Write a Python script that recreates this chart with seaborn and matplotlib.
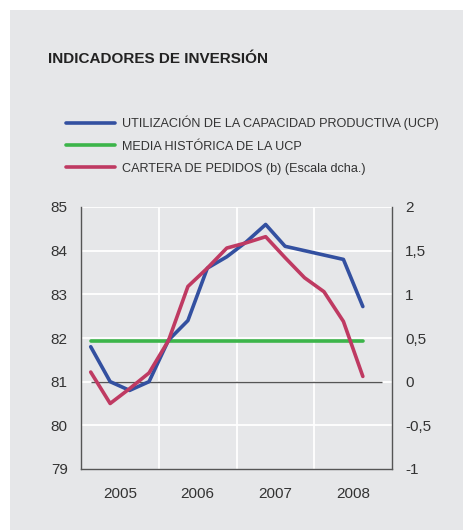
import numpy as np
import pandas as pd
import matplotlib
matplotlib.use("Agg")
import matplotlib.pyplot as plt
import seaborn as sns
from matplotlib.patches import Rectangle
from matplotlib.ticker import FuncFormatter

# quarterly data, Q1 2005 - Q3 2008
quarters = ["2005-Q1", "2005-Q2", "2005-Q3", "2005-Q4",
            "2006-Q1", "2006-Q2", "2006-Q3", "2006-Q4",
            "2007-Q1", "2007-Q2", "2007-Q3", "2007-Q4",
            "2008-Q1", "2008-Q2", "2008-Q3"]
ucp = [81.8, 81.0, 80.8, 81.0, 81.95, 82.4, 83.6, 83.86,
       84.2, 84.6, 84.1, 84.0, 83.9, 83.8, 82.72]
ucp_media = [81.94] * 15
cartera = [0.11, -0.25, -0.08, 0.1, 0.47, 1.09, 1.3, 1.53,
           1.59, 1.66, 1.42, 1.19, 1.03, 0.69, 0.06]
years = [2005, 2006, 2007, 2008]

labels = ["UTILIZACIÓN DE LA CAPACIDAD PRODUCTIVA (UCP)",
          "MEDIA HISTÓRICA DE LA UCP",
          "CARTERA DE PEDIDOS (b) (Escala dcha.)"]
colors = ["#3350a0", "#3cb54a", "#bf3a62"]

def qpos(q):
    y, n = q.split("-Q")
    return int(y) + (int(n) - 0.5) / 4

df = pd.DataFrame({"x": [qpos(q) for q in quarters],
                   "ucp": ucp, "media": ucp_media, "cartera": cartera})

sns.set_theme(style="white")
plt.rcParams["font.family"] = ["Liberation Sans", "DejaVu Sans"]
text_col = "#333333"
bg = "#e6e7e9"

fig = plt.figure(figsize=(4.64, 5.30), dpi=100, facecolor="white")
fig.patches.append(Rectangle((10 / 464, 0), 1, 1 - 10 / 530, transform=fig.transFigure,
                             facecolor=bg, edgecolor="none", zorder=-10))

ax = fig.add_axes([81 / 464, 1 - 469 / 530, 311 / 464, 262 / 530])
ax.set_facecolor(bg)
ax2 = ax.twinx()

# grid
for v in range(80, 86):
    ax.axhline(v, color="white", lw=1.3, zorder=0)
for yr in years[1:]:
    ax.axvline(yr, color="white", lw=1.3, zorder=0)

ax.hlines(81, df["x"].iloc[0], 2008.87, color="#555555", lw=1, zorder=1)

sns.lineplot(data=df, x="x", y="media", ax=ax, color=colors[1], lw=2.6, label=labels[1], zorder=2)
sns.lineplot(data=df, x="x", y="ucp", ax=ax, color=colors[0], lw=2.6, label=labels[0], zorder=3)
sns.lineplot(data=df, x="x", y="cartera", ax=ax2, color=colors[2], lw=2.6, label=labels[2], zorder=3)

ax.set_xlim(2005, 2009)
ax.set_ylim(79, 85)
ax2.set_ylim(-1, 2)
ax.set_yticks(range(79, 86))
ax2.set_yticks([-1, -0.5, 0, 0.5, 1, 1.5, 2])
ax2.yaxis.set_major_formatter(FuncFormatter(lambda v, p: f"{v:g}".replace(".", ",")))
ax.set_xticks([y + 0.5 for y in years])
ax.set_xticklabels([str(y) for y in years])
ax.set_xlabel("")
ax.set_ylabel("")
ax2.set_ylabel("")

for a in (ax, ax2):
    a.tick_params(length=0, labelsize=11, colors=text_col)
    for s in a.spines.values():
        s.set_visible(False)
ax.tick_params(axis="y", pad=9.5)
ax.tick_params(axis="x", pad=13)
ax2.tick_params(axis="y", pad=9.5)
for side in ("left", "bottom"):
    ax.spines[side].set_visible(True)
    ax.spines[side].set_color("#555555")
    ax.spines[side].set_linewidth(1)
ax2.spines["right"].set_visible(True)
ax2.spines["right"].set_color("#555555")
ax2.spines["right"].set_linewidth(1)

h1, l1 = ax.get_legend_handles_labels()
h2, l2 = ax2.get_legend_handles_labels()
hd = dict(zip(l1 + l2, h1 + h2))
ax.get_legend().remove()
ax2.get_legend().remove()
fig.legend([hd[l] for l in labels], labels, loc="upper left",
           bbox_to_anchor=(66 / 464, 1 - 116 / 530), frameon=False,
           fontsize=9.1, handlelength=3.9, handletextpad=0.56, labelspacing=0.8,
           borderpad=0, borderaxespad=0, labelcolor=text_col)

fig.text(48 / 464, 1 - 63 / 530, "INDICADORES DE INVERSIÓN", fontsize=11,
         fontweight="bold", color="#222222", va="baseline", ha="left")

fig.savefig("out.png", dpi=100, facecolor="white")
